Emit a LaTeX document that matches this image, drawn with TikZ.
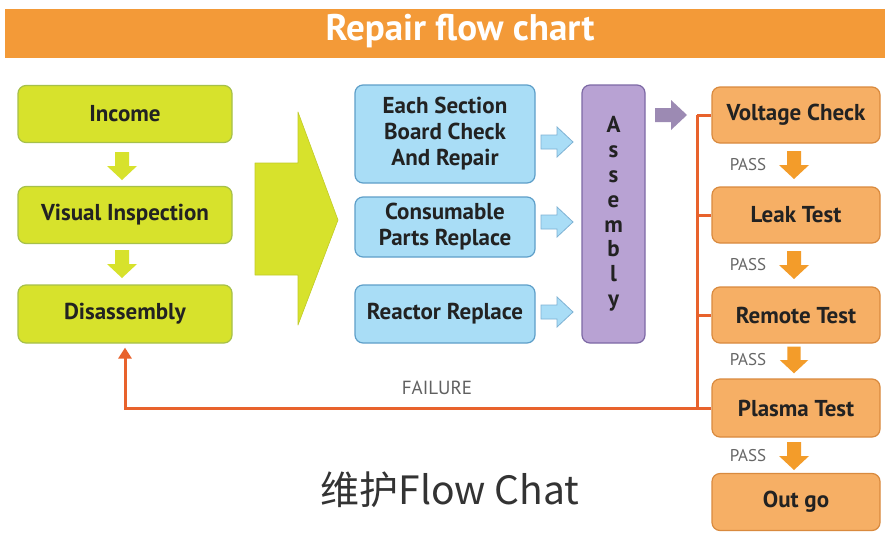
\documentclass[tikz,border=0pt]{standalone}
\usepackage{fontspec}
\setmainfont{PT Sans}
\newfontfamily\cjk{Noto Sans CJK SC}
\usetikzlibrary{arrows.meta}
\definecolor{titleor}{HTML}{F39A38}
\definecolor{grfill}{HTML}{D7E22C}
\definecolor{grdraw}{HTML}{A6C04A}
\definecolor{blfill}{HTML}{A9DDF6}
\definecolor{bldraw}{HTML}{5E9FC9}
\definecolor{pufill}{HTML}{B8A2D3}
\definecolor{pudraw}{HTML}{7D69A5}
\definecolor{orfill}{HTML}{F6AF65}
\definecolor{ordraw}{HTML}{D98A3E}
\definecolor{orarrow}{HTML}{F39C2A}
\definecolor{failc}{HTML}{E8622C}
\definecolor{txt}{HTML}{222222}
\tikzset{
  box/.style={rounded corners=8pt, line width=1.2pt, inner sep=0pt, align=center,
    text=txt, font=\bfseries\fontsize{23}{26}\selectfont},
  grbox/.style={box, fill=grfill, draw=grdraw, minimum width=214pt, minimum height=57pt},
  blbox/.style={box, fill=blfill, draw=bldraw, minimum width=180pt},
  orbox/.style={box, fill=orfill, draw=ordraw, minimum width=168pt, minimum height=57pt},
  passlbl/.style={text=gray!80!black, font=\fontsize{17}{17}\selectfont},
  failline/.style={draw=failc, line width=3pt},
  pics/darrow/.style={code={
    \path[pic actions] (-7,-14) -- (7,-14) -- (7,0) -- (15,0) -- (0,14) -- (-15,0) -- (-7,0) -- cycle;}},
  pics/rarrow/.style={code={
    \path[pic actions] (-16,-7) -- (0,-7) -- (0,-15) -- (16,0) -- (0,15) -- (0,7) -- (-16,7) -- cycle;}}
}
\begin{document}
\begin{tikzpicture}[x=1pt,y=-1pt]
\useasboundingbox (0,0) rectangle (885,533);
\fill[white] (0,0) rectangle (885,533);
% title bar
\fill[titleor] (5,9) rectangle (885,58);
\node[text=white, font=\bfseries\fontsize{37}{37}\selectfont] (title) at (460,31) {Repair flow chart};

% green column
\node[grbox] (inc) at (125,114) {Income};
\node[grbox] (vis) at (125,215) {Visual Inspection};
\node[grbox, minimum height=58pt] (dis) at (125,314) {Disassembly};
\pic[fill=grfill] at (122,166) {darrow};
\pic[fill=grfill] at (122,264) {darrow};

% big arrow
\path[fill=grfill, draw=grfill!90!black, line width=0.6pt, line join=round]
  (255,163) -- (298,163) -- (298,112) -- (338,220) -- (298,325) -- (298,275) -- (255,275) -- cycle;

% blue column
\node[blbox, minimum height=98pt] (each) at (445,134) {Each Section\\Board Check\\And Repair};
\node[blbox, minimum height=60pt] (cons) at (445,227) {Consumable\\Parts Replace};
\node[blbox, minimum height=58pt] (reac) at (445,314) {Reactor Replace};
\pic[fill=blfill, draw=bldraw!80, line width=0.8pt] at (557,142) {rarrow};
\pic[fill=blfill, draw=bldraw!80, line width=0.8pt] at (557,222) {rarrow};
\pic[fill=blfill, draw=bldraw!80, line width=0.8pt] at (557,312) {rarrow};

% assembly
\node[box, fill=pufill, draw=pudraw, minimum width=63pt, minimum height=258pt,
  font=\bfseries\fontsize{23}{24.8}\selectfont] (asm) at (613.5,214) {A\\s\\s\\e\\m\\b\\l\\y};
\pic[fill=pufill!85!black] at (671,115) {rarrow};

% orange column
\node[orbox, minimum height=56pt] (volt) at (796,115) {Voltage Check};
\node[orbox, minimum height=56pt] (leak) at (796,215) {Leak Test};
\node[orbox, minimum height=56pt] (rem) at (796,315) {Remote Test};
\node[orbox, minimum height=58pt] (plas) at (796,408) {Plasma Test};
\node[orbox, minimum height=57pt] (out) at (796,502) {Out go};
\pic[fill=orarrow] at (794,165) {darrow};
\pic[fill=orarrow] at (794,265) {darrow};
\pic[fill=orarrow, scale=0.95] at (794,360) {darrow};
\pic[fill=orarrow] at (794,456) {darrow};
\node[passlbl] (p1) at (748,165) {PASS};
\node[passlbl] (p2) at (748,265) {PASS};
\node[passlbl] (p3) at (748,360) {PASS};
\node[passlbl] (p4) at (748,456) {PASS};

% failure bus
\coordinate (bus) at (697,0);
\draw[failline] (volt.west -| bus) -- (plas.west -| bus);
\draw[failline] (volt.west) -- (volt.west -| bus);
\draw[failline] (leak.west) -- (leak.west -| bus);
\draw[failline] (rem.west) -- (rem.west -| bus);
\draw[failline, -{Triangle[length=11pt, width=13pt]}] (plas.west) -- (plas.west -| dis.south) -- ([yshift=-4pt]dis.south);
\node[text=gray!75!black, font=\fontsize{19}{19}\selectfont] (fail) at (437,388) {FAILURE};

% caption
\node[text=black!80, font=\cjk\fontsize{39}{39}\selectfont] (cap) at (450,490) {维护Flow Chat};
\end{tikzpicture}
\end{document}
